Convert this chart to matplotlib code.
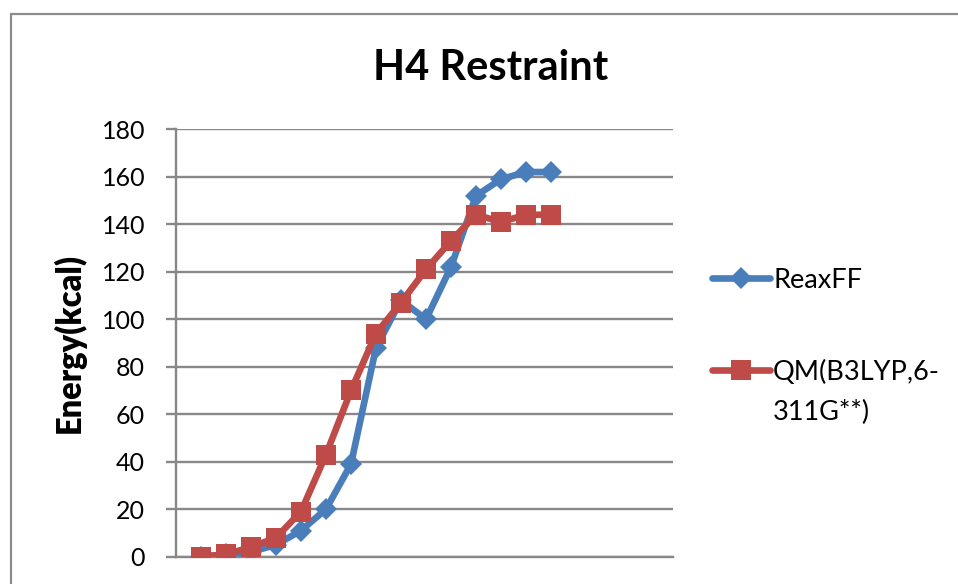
import matplotlib
matplotlib.use("Agg")
import matplotlib.pyplot as plt
from matplotlib.lines import Line2D

# Scan steps along the restraint coordinate
steps = [1, 2, 3, 4, 5, 6, 7, 8, 9, 10, 11, 12, 13, 14, 15]

# Energies (kcal) for each method
reaxff = [0, 1, 2, 5, 11, 20, 39, 88, 108, 100, 122, 152, 159, 162, 162]
qm = [0, 1, 4, 8, 19, 43, 70, 94, 107, 121, 133, 144, 141, 144, 144]

series_names = ["ReaxFF", "QM(B3LYP,6-\n311G**)"]
y_ticks = [0, 20, 40, 60, 80, 100, 120, 140, 160, 180]

BLUE = "#4A7EBB"
RED = "#BE4B48"
GRID = "#888888"
FONT = "Lato"

W, H = 958, 584
fig = plt.figure(figsize=(W / 100, H / 100), dpi=100)
fig.patch.set_facecolor("white")

# outer chart frame
frame = plt.Rectangle((11 / W, -0.1), 1.2, (H - 14) / H + 0.1, transform=fig.transFigure,
                      fill=False, edgecolor="#8C8C8C", linewidth=1.6)
fig.add_artist(frame)

ax = fig.add_axes([176 / W, (H - 556.7) / H, (673.5 - 176) / W, (556.7 - 129.3) / H])
ax.set_xlim(0, 19.9)
ax.set_ylim(0, 180)

LW = 4.8
ax.plot(steps, reaxff, color=BLUE, linewidth=LW, marker="D", markersize=11.5,
        markeredgewidth=0, solid_joinstyle="round", solid_capstyle="round", zorder=3)
ax.plot(steps, qm, color=RED, linewidth=LW, marker="s", markersize=15,
        markeredgewidth=0, solid_joinstyle="round", solid_capstyle="round", zorder=4)

ax.set_yticks(y_ticks)
ax.yaxis.grid(True, color=GRID, linewidth=1.7)
ax.set_axisbelow(True)
ax.set_xticks([])
for side in ("top", "right"):
    ax.spines[side].set_visible(False)
for side in ("left", "bottom"):
    ax.spines[side].set_color(GRID)
    ax.spines[side].set_linewidth(1.7)
ax.tick_params(axis="y", direction="out", length=7.2, width=1.7, color=GRID,
               pad=15, labelsize=18)
for lbl in ax.get_yticklabels():
    lbl.set_fontfamily(FONT)

fig.text(491 / W, (H - 80) / H, "H4 Restraint", ha="center", va="baseline",
         fontsize=30, fontweight="bold", family=FONT)
fig.text(69 / W, (H - 343) / H, "Energy(kcal)", ha="center", va="center",
         rotation=90, fontsize=23.5, fontweight="heavy", family=FONT)

# legend drawn beside the plot area
legend_items = [(BLUE, "D", 11.5, 278), (RED, "s", 15, 370)]
for (color, mk, ms, yc), name in zip(legend_items, series_names):
    yf = (H - yc) / H
    fig.add_artist(Line2D([712 / W, 770 / W], [yf, yf], transform=fig.transFigure,
                          color=color, linewidth=LW, solid_capstyle="round"))
    fig.add_artist(Line2D([741 / W], [yf], transform=fig.transFigure, color=color,
                          marker=mk, markersize=ms, markeredgewidth=0))
    for i, line in enumerate(name.split("\n")):
        fig.text(773 / W, (H - yc - 40 * i) / H, line, ha="left", va="center_baseline",
                 fontsize=19.5, family=FONT)

fig.savefig("out.png", dpi=100, facecolor="white")
